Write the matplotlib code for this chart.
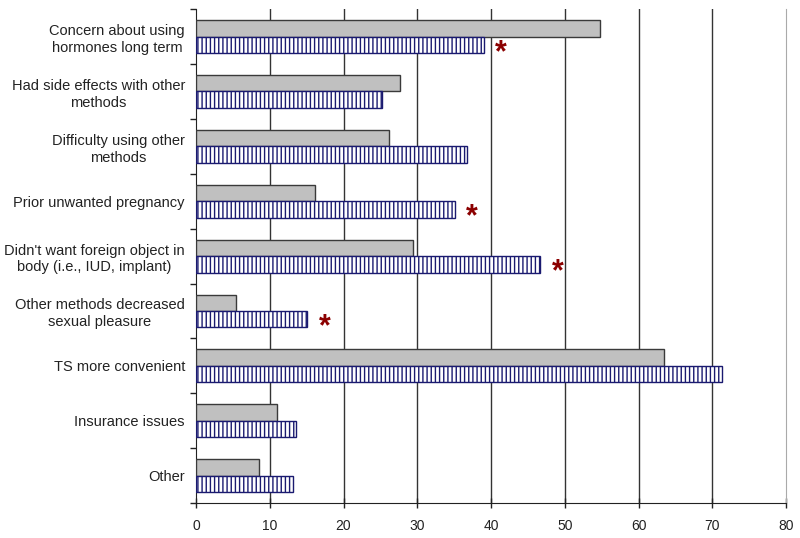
import numpy as np
import matplotlib.pyplot as plt

plt.rcParams['font.family'] = ['Liberation Sans', 'DejaVu Sans']
plt.rcParams['hatch.linewidth'] = 1.0

# reasons for choosing the patch, two groups
reasons = ['Concern about using\nhormones long term',
           'Had side effects with other\nmethods',
           'Difficulty using other\nmethods',
           'Prior unwanted pregnancy',
           "Didn't want foreign object in\nbody (i.e., IUD, implant)",
           'Other methods decreased\nsexual pleasure',
           'TS more convenient',
           'Insurance issues',
           'Other']
gray_vals = [54.8, 27.7, 26.2, 16.1, 29.4, 5.4, 63.5, 11.0, 8.6]
striped_vals = [39.0, 25.2, 36.7, 35.1, 46.7, 15.1, 71.3, 13.5, 13.1]
# significant differences marked with a star
signif = [True, False, False, True, True, True, False, False, False]

xticks = list(range(0, 90, 10))

fig = plt.figure(figsize=(8, 5.38), dpi=100)
ax = fig.add_axes([0.245, 0.065, 0.7375, 0.918])

y = np.arange(len(reasons))
h = 0.3
ax.barh(y - h/2, gray_vals, height=h, color='#c0c0c0', edgecolor='#3a3a3a',
        linewidth=1, zorder=3)
ax.barh(y + h/2, striped_vals, height=h, color='white', edgecolor='#1a1a70',
        hatch='||||', linewidth=1, zorder=3)

for i in range(len(reasons)):
    if signif[i]:
        ax.text(striped_vals[i] + 2.3, y[i] + h/2 + 0.15, '*', color='#8b0000',
                fontsize=22, fontweight='bold', ha='center', va='center',
                zorder=4)

ax.set_xlim(0, 80)
ax.set_ylim(len(reasons) - 0.5, -0.5)
ax.set_xticks(xticks)
ax.set_xticklabels([str(t) for t in xticks], fontsize=10, color='#222222')
ax.tick_params(axis='x', direction='inout', length=7, width=1, pad=8,
               color='#222222')

# category labels centred on bands, ticks on band boundaries
ax.set_yticks(y)
ax.set_yticklabels(reasons, fontsize=10.5, color='#222222',
                   multialignment='center', linespacing=1.25)
ax.tick_params(axis='y', length=0, pad=8)
ax.set_yticks(np.arange(-0.5, len(reasons), 1), minor=True)
ax.tick_params(axis='y', which='minor', length=4, width=1, color='#222222')

for t in xticks[1:-1]:
    ax.axvline(t, color='#333333', linewidth=1, zorder=1)

ax.spines['top'].set_visible(False)
ax.spines['right'].set_color('#aaaaaa')
ax.spines['left'].set_color('#222222')
ax.spines['bottom'].set_color('#222222')

fig.savefig('out.png', dpi=100)
